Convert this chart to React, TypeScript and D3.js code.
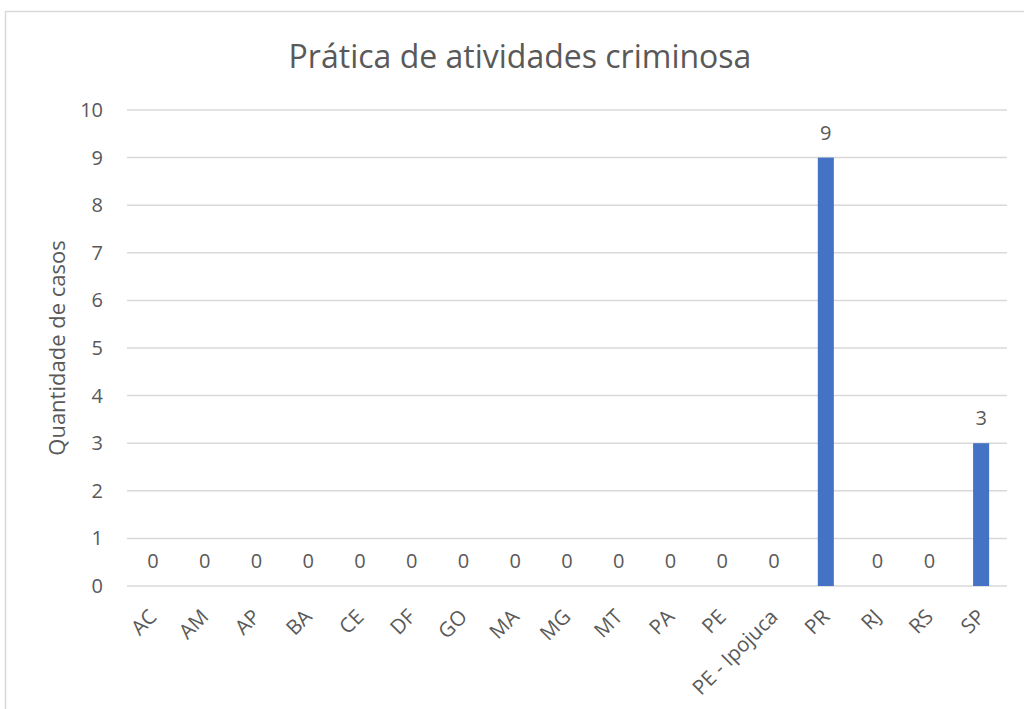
import React from "react";
import * as d3 from "d3";

const categories = ["AC", "AM", "AP", "BA", "CE", "DF", "GO", "MA", "MG", "MT", "PA", "PE", "PE - Ipojuca", "PR", "RJ", "RS", "SP"];
const values = [0, 0, 0, 0, 0, 0, 0, 0, 0, 0, 0, 0, 0, 9, 0, 0, 3];
const yTicks = [0, 1, 2, 3, 4, 5, 6, 7, 8, 9, 10];
const title = "Prática de atividades criminosa";
const yTitle = "Quantidade de casos";

const W = 1024;
const H = 709;
const plot = { left: 127, right: 1007, top: 110, bottom: 586 };
const FONT = "'Open Sans', 'Noto Sans', sans-serif";
const TEXT = "#595959";

export default function App() {
  const x = d3.scaleBand<string>().domain(categories).range([plot.left, plot.right]).paddingInner(0.69).paddingOuter(0.345);
  const y = d3.scaleLinear().domain([0, 10]).range([plot.bottom, plot.top]);

  return (
    <svg width={W} height={H} style={{ position: "absolute", left: 0, top: 0 }} fontFamily={FONT}>
      <rect x={0} y={0} width={W} height={H} fill="#fff" />
      <rect x={5.5} y={11.5} width={W + 10} height={H + 10} fill="none" stroke="#d9d9d9" strokeWidth={1.5} />
      <text x={520} y={68} textAnchor="middle" fontSize={32} fill={TEXT}>{title}</text>
      {yTicks.map((t) => (
        <g key={t}>
          <line x1={plot.left} x2={plot.right} y1={y(t)} y2={y(t)} stroke="#d9d9d9" strokeWidth={1.5} />
          <text x={103} y={y(t)} dy="0.35em" textAnchor="end" fontSize={20} fill={TEXT}>{t}</text>
        </g>
      ))}
      <text transform={`translate(57, ${(plot.top + plot.bottom) / 2}) rotate(-90)`} textAnchor="middle" dy="0.35em" fontSize={22} fill={TEXT}>{yTitle}</text>
      {categories.map((c, i) => {
        const cx = (x(c) as number) + x.bandwidth() / 2;
        const v = values[i];
        return (
          <g key={c}>
            {v > 0 && (
              <rect x={x(c)} y={y(v)} width={x.bandwidth()} height={y(0) - y(v)} fill="#4472c4" />
            )}
            <text x={cx} y={y(v) - 25} dy="0.35em" textAnchor="middle" fontSize={20} fill={TEXT}>{v}</text>
            <text transform={`translate(${cx}, ${plot.bottom + 27}) rotate(-45)`} textAnchor="end" dy="0.35em" fontSize={20.5} fill={TEXT}>{c}</text>
          </g>
        );
      })}
    </svg>
  );
}
